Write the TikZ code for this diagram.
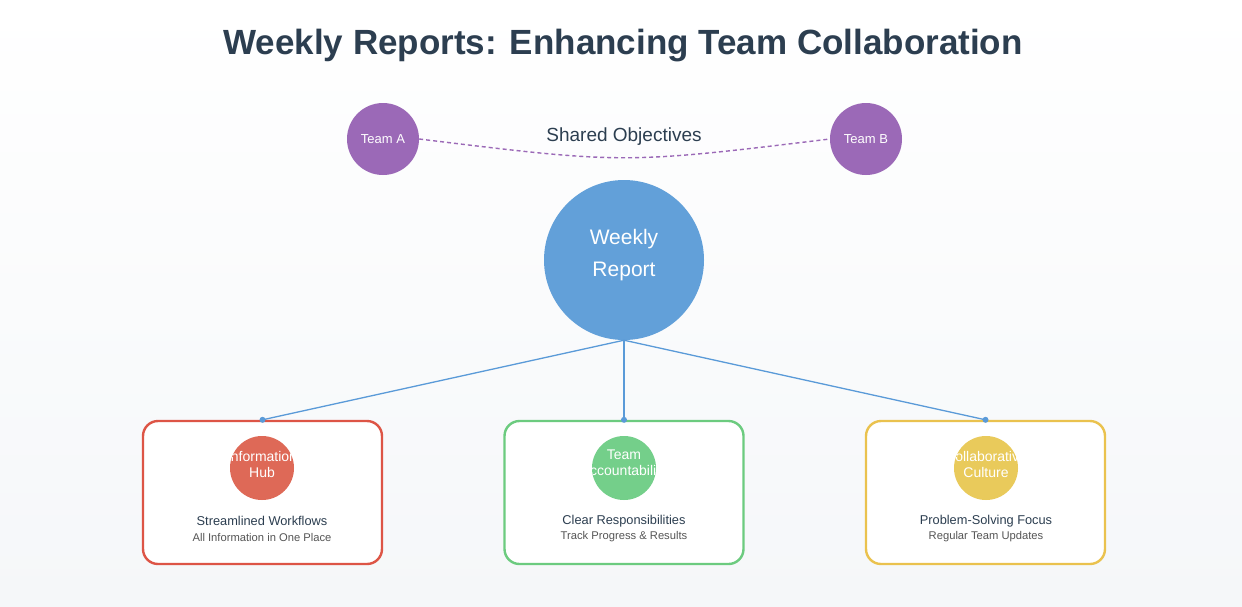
\documentclass[tikz,border=0pt]{standalone}
\usepackage{fontspec}
\setmainfont{Liberation Sans}
\definecolor{ink}{HTML}{2C3E50}
\definecolor{subink}{HTML}{555555}
\definecolor{purp}{HTML}{9B69B7}
\definecolor{blu}{HTML}{62A0D9}
\definecolor{linkblue}{HTML}{5A9AD8}
\definecolor{redb}{HTML}{DD5546}
\definecolor{redc}{HTML}{DE6957}
\definecolor{grnb}{HTML}{6CCB7F}
\definecolor{grnc}{HTML}{74CF8A}
\definecolor{ylwb}{HTML}{EAC24E}
\definecolor{ylwc}{HTML}{E9CA5B}
\definecolor{bgbot}{HTML}{F5F7F9}
\tikzset{
  team/.style={circle, fill=purp, minimum size=72pt, inner sep=0pt, text=white, font=\fontsize{13}{15}\selectfont},
  card/.style={draw=#1, line width=2.4pt, rounded corners=15pt, fill=white, minimum width=239pt, minimum height=143pt, inner sep=0pt},
  badge/.style={circle, fill=#1, minimum size=64pt, inner sep=0pt},
  badgetext/.style={text=white, font=\fontsize{14}{16}\selectfont, align=center},
  link/.style={draw=linkblue, line width=1.3pt},
  dot/.style={fill=linkblue},
  headtxt/.style={text=ink, font=\fontsize{12.8}{14}\selectfont},
  subtxt/.style={text=subink, font=\fontsize{11.2}{12}\selectfont},
}
\begin{document}
\begin{tikzpicture}[x=1pt,y=-1pt]
\shade[top color=white, bottom color=bgbot] (0,0) rectangle (1242,606);
\useasboundingbox (0,0) rectangle (1242,606);

\node[text=ink, font=\bfseries\fontsize{35}{38}\selectfont] (title) at (623,46) {Weekly Reports: Enhancing Team Collaboration};

\node[team] (ta) at (383,139) {Team A};
\node[team] (tb) at (866,139) {Team B};
\draw[purp, line width=1.4pt, dash pattern=on 4pt off 3pt] (ta.east) .. controls (624,164) .. (tb.west);
\node[text=ink, font=\fontsize{19}{21}\selectfont] (shared) at (624,137) {Shared Objectives};

\node[circle, fill=blu, minimum size=160pt, inner sep=0pt] (wr) at (624,260) {};
\node[text=white, align=center, font=\fontsize{21}{32}\selectfont] (wrt) at (624,255) {Weekly\\Report};

\node[card=redb] (c1) at (262.5,492.5) {};
\node[card=grnb] (c2) at (624,492.5) {};
\node[card=ylwb] (c3) at (985.5,492.5) {};

\draw[link] (wr.south) -- (c1.north);
\draw[link] (wr.south) -- (c2.north);
\draw[link] (wr.south) -- (c3.north);
\fill[dot] (c1.north) circle (3pt);
\fill[dot] (c2.north) circle (3pt);
\fill[dot] (c3.north) circle (3pt);

\node[badge=redc, path picture={\node[badgetext] at ([yshift=4pt]path picture bounding box.center) {Information\\Hub};}] (b1) at (262,468) {};
\node[badge=grnc, path picture={\node[badgetext] at ([yshift=4pt]path picture bounding box.center) {Team\\Accountability};}] (b2) at (624,468) {};
\node[badge=ylwc, path picture={\node[badgetext] at ([yshift=4pt]path picture bounding box.center) {Collaborative\\Culture};}] (b3) at (986,468) {};

\node[headtxt] (h1) at (262,521) {Streamlined Workflows};
\node[subtxt] (s1) at (262,537) {All Information in One Place};
\node[headtxt] (h2) at (624,521) {Clear Responsibilities};
\node[subtxt] (s2) at (624,537) {Track Progress \& Results};
\node[headtxt] (h3) at (986,521) {Problem-Solving Focus};
\node[subtxt] (s3) at (986,537) {Regular Team Updates};
\end{tikzpicture}
\end{document}
